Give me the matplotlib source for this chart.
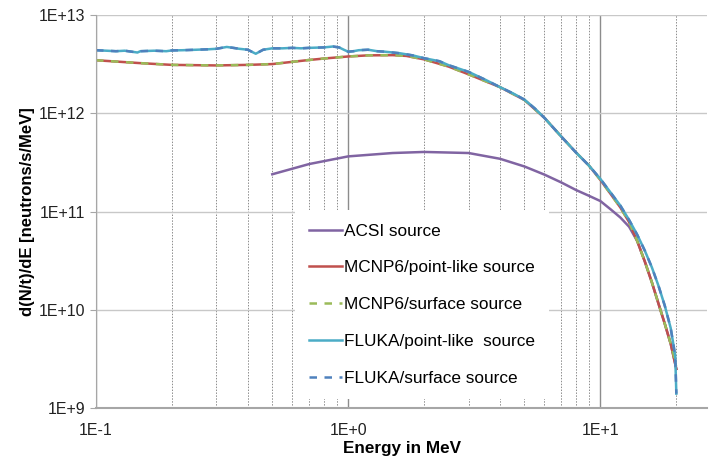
import numpy as np
import matplotlib.pyplot as plt
from matplotlib.ticker import FixedLocator, NullFormatter

plt.rcParams['font.family'] = ['Liberation Sans', 'DejaVu Sans']

# Energy grids (MeV) and spectra (neutrons/s/MeV)
e_acsi = [0.5, 0.7, 1.0, 1.5, 2.0, 3.0, 4.0, 5.0, 6.0, 7.0, 8.0, 9.0, 10.0,
          11.0, 12.0, 13.0, 14.0, 15.0, 16.0, 17.0, 18.0, 19.0, 20.0]
acsi = [2.40e11, 3.05e11, 3.65e11, 3.95e11, 4.05e11, 3.95e11, 3.45e11, 2.88e11,
        2.38e11, 1.98e11, 1.66e11, 1.45e11, 1.28e11, 1.05e11, 8.7e10, 7.0e10,
        5.0e10, 3.1e10, 1.9e10, 1.15e10, 7.2e9, 4.5e9, 2.5e9]

e_mcnp = [0.10, 0.15, 0.20, 0.30, 0.40, 0.50, 0.60, 0.70, 0.80, 1.00, 1.20,
          1.50, 1.70, 2.00, 2.50, 3.00, 4.00, 5.00, 6.00, 7.00, 8.00, 9.00,
          10.0, 11.0, 12.0, 13.0, 14.0, 15.0, 16.0, 17.0, 18.0, 19.0, 20.0]
mcnp_point = [3.48e12, 3.25e12, 3.12e12, 3.08e12, 3.12e12, 3.18e12, 3.35e12,
              3.50e12, 3.62e12, 3.80e12, 3.90e12, 3.92e12, 3.85e12, 3.55e12,
              3.00e12, 2.50e12, 1.85e12, 1.37e12, 9.0e11, 5.8e11, 4.0e11,
              2.95e11, 2.1e11, 1.5e11, 1.1e11, 7.8e10, 5.0e10, 3.1e10, 1.9e10,
              1.15e10, 7.2e9, 4.5e9, 2.5e9]
mcnp_surface = [3.48e12, 3.25e12, 3.12e12, 3.08e12, 3.12e12, 3.18e12, 3.35e12,
                3.50e12, 3.62e12, 3.80e12, 3.90e12, 3.92e12, 3.85e12, 3.55e12,
                3.00e12, 2.50e12, 1.85e12, 1.37e12, 9.0e11, 5.8e11, 4.0e11,
                2.95e11, 2.1e11, 1.5e11, 1.1e11, 7.8e10, 5.0e10, 3.1e10, 1.9e10,
                1.15e10, 7.2e9, 4.5e9, 2.7e9]

e_fluka = [0.10, 0.11, 0.12, 0.13, 0.146, 0.15, 0.17, 0.19, 0.20, 0.22, 0.25,
           0.28, 0.30, 0.33, 0.35, 0.37, 0.40, 0.43, 0.46, 0.50, 0.55, 0.60,
           0.65, 0.70, 0.80, 0.87, 0.92, 0.97, 1.00, 1.05, 1.10, 1.20, 1.30,
           1.40, 1.60, 1.80, 2.00, 2.30, 2.50, 3.00, 3.50, 4.00, 4.50, 5.00,
           5.50, 6.00, 7.00, 8.00, 9.00, 10.0, 11.0, 12.0, 13.0, 14.0, 15.0,
           16.0, 17.0, 18.0, 19.0, 19.8, 20.0]
fluka_point = [4.40e12, 4.35e12, 4.30e12, 4.35e12, 4.17e12, 4.30e12, 4.35e12,
               4.30e12, 4.38e12, 4.40e12, 4.45e12, 4.50e12, 4.55e12, 4.75e12,
               4.65e12, 4.55e12, 4.45e12, 4.05e12, 4.45e12, 4.60e12, 4.60e12,
               4.65e12, 4.60e12, 4.65e12, 4.70e12, 4.80e12, 4.70e12, 4.40e12,
               4.25e12, 4.30e12, 4.40e12, 4.45e12, 4.30e12, 4.25e12, 4.10e12,
               3.90e12, 3.65e12, 3.40e12, 3.10e12, 2.65e12, 2.20e12, 1.85e12,
               1.60e12, 1.38e12, 1.12e12, 9.0e11, 5.8e11, 4.0e11, 2.95e11,
               2.15e11, 1.55e11, 1.15e11, 8.2e10, 5.8e10, 4.0e10, 2.7e10,
               1.75e10, 1.1e10, 6.5e9, 3.4e9, 1.4e9]
fluka_surface = fluka_point

labels = ["ACSI source", "MCNP6/point-like source", "MCNP6/surface source",
          "FLUKA/point-like  source", "FLUKA/surface source"]

fig = plt.figure(figsize=(7.09, 4.61), dpi=100)
ax = fig.add_axes([0.1354, 0.115, 0.862, 0.852])

ax.plot(e_acsi, acsi, color="#8064A2", lw=1.8, label=labels[0])
ax.plot(e_mcnp, mcnp_point, color="#C0504D", lw=1.8, label=labels[1])
ax.plot(e_mcnp, mcnp_surface, color="#9BBB59", lw=1.8, ls=(0, (3, 3)), label=labels[2])
ax.plot(e_fluka, fluka_point, color="#4BACC6", lw=1.8, label=labels[3])
ax.plot(e_fluka, fluka_surface, color="#4F81BD", lw=1.8, ls=(0, (3, 3)), label=labels[4])

ax.set_xscale("log")
ax.set_yscale("log")
ax.set_xlim(0.1, 26.5)
ax.set_ylim(1e9, 1e13)

# gridlines like the spreadsheet chart
ax.set_yticks([1e9, 1e10, 1e11, 1e12, 1e13])
ax.set_yticklabels(["1E+9", "1E+10", "1E+11", "1E+12", "1E+13"])
ax.yaxis.set_minor_locator(FixedLocator([]))
ax.set_xticks([0.1, 1, 10])
ax.set_xticklabels(["1E-1", "1E+0", "1E+1"])
minors = [0.2, 0.3, 0.4, 0.5, 0.6, 0.7, 0.8, 0.9, 2, 3, 4, 5, 6, 7, 8, 9, 20]
ax.xaxis.set_minor_locator(FixedLocator(minors))
ax.xaxis.set_minor_formatter(NullFormatter())
ax.grid(axis="y", which="major", color="#C8C8C8", lw=1.0)
ax.grid(axis="x", which="major", color="#8C8C8C", lw=1.0)
ax.grid(axis="x", which="minor", color="#8C8C8C", lw=0.7, ls=(0, (1.5, 1.5)))
ax.set_axisbelow(True)

for s in ["top", "right"]:
    ax.spines[s].set_visible(False)
ax.spines["left"].set_color("#A6A6A6")
ax.spines["bottom"].set_color("#A6A6A6")
ax.spines["bottom"].set_linewidth(1.5)
ax.tick_params(axis="both", which="major", length=4, color="#A6A6A6",
               labelsize=11.5, labelcolor="#222222")
ax.tick_params(axis="x", which="minor", length=0)
ax.tick_params(axis="x", which="major", length=0, pad=11)

ax.set_xlabel("Energy in MeV", fontsize=12.3, fontweight="bold", labelpad=2)
ax.set_ylabel("d(N/t)/dE [neutrons/s/MeV]", fontsize=12, fontweight="bold", labelpad=3)

leg = ax.legend(loc="lower left", bbox_to_anchor=(0.312, 0.0), fontsize=12.4,
                frameon=True, fancybox=False, labelspacing=1.26,
                handlelength=1.9, handletextpad=0.12, borderpad=0.8)
leg.get_frame().set_facecolor("white")
leg.get_frame().set_edgecolor("none")
leg.get_frame().set_alpha(1.0)

fig.savefig("out.png", dpi=100)
